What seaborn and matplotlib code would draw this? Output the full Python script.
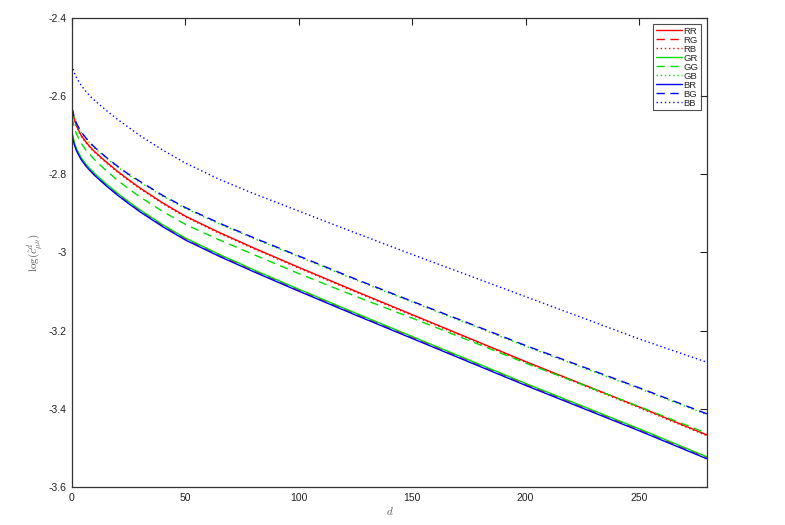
import matplotlib
matplotlib.use("Agg")
import matplotlib.pyplot as plt
import seaborn as sns
import pandas as pd

# values (d on the x axis)
d = [0, 1, 2, 4, 6, 8, 10, 15, 20, 25, 30, 40, 50, 65, 80, 100, 125, 150, 175, 200, 225, 250, 280]

bb = [-2.520, -2.540, -2.553, -2.572, -2.587, -2.600, -2.611, -2.636, -2.659, -2.680, -2.701, -2.738,
      -2.771, -2.813, -2.849, -2.894, -2.950, -3.005, -3.059, -3.113, -3.167, -3.221, -3.281]
bg = [-2.630, -2.654, -2.670, -2.691, -2.706, -2.719, -2.731, -2.756, -2.779, -2.800, -2.818, -2.854,
      -2.885, -2.925, -2.962, -3.009, -3.068, -3.125, -3.181, -3.238, -3.292, -3.346, -3.413]
gb = [-2.632, -2.656, -2.672, -2.693, -2.708, -2.721, -2.733, -2.758, -2.781, -2.802, -2.820, -2.856,
      -2.887, -2.927, -2.964, -3.011, -3.070, -3.127, -3.183, -3.240, -3.294, -3.348, -3.415]
rr = [-2.630, -2.658, -2.676, -2.700, -2.716, -2.730, -2.742, -2.768, -2.792, -2.814, -2.835, -2.873,
      -2.907, -2.949, -2.988, -3.038, -3.099, -3.159, -3.219, -3.279, -3.337, -3.395, -3.467]
rb = [-2.632, -2.660, -2.678, -2.702, -2.718, -2.732, -2.744, -2.770, -2.794, -2.816, -2.837, -2.875,
      -2.909, -2.951, -2.990, -3.040, -3.101, -3.161, -3.221, -3.281, -3.339, -3.397, -3.469]
gg = [-2.655, -2.680, -2.697, -2.720, -2.737, -2.750, -2.763, -2.790, -2.815, -2.837, -2.858, -2.895,
      -2.928, -2.968, -3.005, -3.054, -3.112, -3.168, -3.225, -3.283, -3.338, -3.394, -3.463]
gr = [-2.690, -2.718, -2.735, -2.757, -2.773, -2.786, -2.798, -2.824, -2.848, -2.870, -2.891, -2.929,
      -2.963, -3.005, -3.044, -3.094, -3.155, -3.215, -3.275, -3.335, -3.393, -3.451, -3.523]
rg = [-2.695, -2.721, -2.737, -2.759, -2.775, -2.788, -2.800, -2.826, -2.850, -2.872, -2.893, -2.931,
      -2.965, -3.007, -3.046, -3.096, -3.157, -3.217, -3.277, -3.337, -3.395, -3.453, -3.525]
br = [-2.700, -2.724, -2.740, -2.762, -2.778, -2.791, -2.803, -2.829, -2.853, -2.875, -2.896, -2.934,
      -2.968, -3.010, -3.049, -3.099, -3.160, -3.220, -3.280, -3.340, -3.398, -3.456, -3.528]

series = ["RR", "RG", "RB", "GR", "GG", "GB", "BR", "BG", "BB"]
values = [rr, rg, rb, gr, gg, gb, br, bg, bb]
colors = ["#ff0000", "#ff0000", "#ff0000", "#00dd00", "#00dd00", "#00dd00", "#0000ff", "#0000ff", "#0000ff"]
dashes = ["", (6, 4), (1, 2), "", (6, 4), (1, 2), "", (6, 4), (1, 2)]

yticks = [-3.6, -3.4, -3.2, -3.0, -2.8, -2.6, -2.4]
ytick_labels = ["-3.6", "-3.4", "-3.2", "-3", "-2.8", "-2.6", "-2.4"]
xticks = [0, 50, 100, 150, 200, 250]

df = pd.DataFrame({"d": d * len(series),
                   "val": [v for vals in values for v in vals],
                   "pair": [s for s in series for _ in d]})

sns.set_style("white")
plt.rcParams['font.family'] = ['Liberation Sans', 'DejaVu Sans']
plt.rcParams['mathtext.fontset'] = 'cm'

fig = plt.figure(figsize=(7.85, 5.25), dpi=100)
ax = fig.add_axes([0.0917, 0.0724, 0.809, 0.8933])

sns.lineplot(data=df, x="d", y="val", hue="pair", style="pair",
             hue_order=series, style_order=series,
             palette=dict(zip(series, colors)), dashes=dict(zip(series, dashes)),
             linewidth=1.0, ax=ax)

ax.set_xlim(0, 280)
ax.set_ylim(-3.6, -2.4)
ax.set_xticks(xticks)
ax.set_xticklabels([str(x) for x in xticks])
ax.set_yticks(yticks)
ax.set_yticklabels(ytick_labels)
ax.tick_params(direction="in", length=5, width=0.8, labelsize=7.5, top=True, right=True,
               colors="#222222", pad=4)
for sp in ax.spines.values():
    sp.set_color("#333333")
    sp.set_linewidth(0.9)

ax.set_xlabel("$d$", fontsize=8, color="#555555", labelpad=2)
ax.set_ylabel(r"$\log(\hat{c}^{d}_{\mu\nu})$", fontsize=8, color="#555555", labelpad=2)

leg = ax.legend(loc="upper right", fontsize=6.8, frameon=True, fancybox=False,
                edgecolor="#222222", handlelength=2.7, handletextpad=0.2,
                labelspacing=0.0, borderpad=0.3, borderaxespad=0.6)
leg.get_frame().set_linewidth(0.8)

fig.savefig("out.png", dpi=100, facecolor="white")
